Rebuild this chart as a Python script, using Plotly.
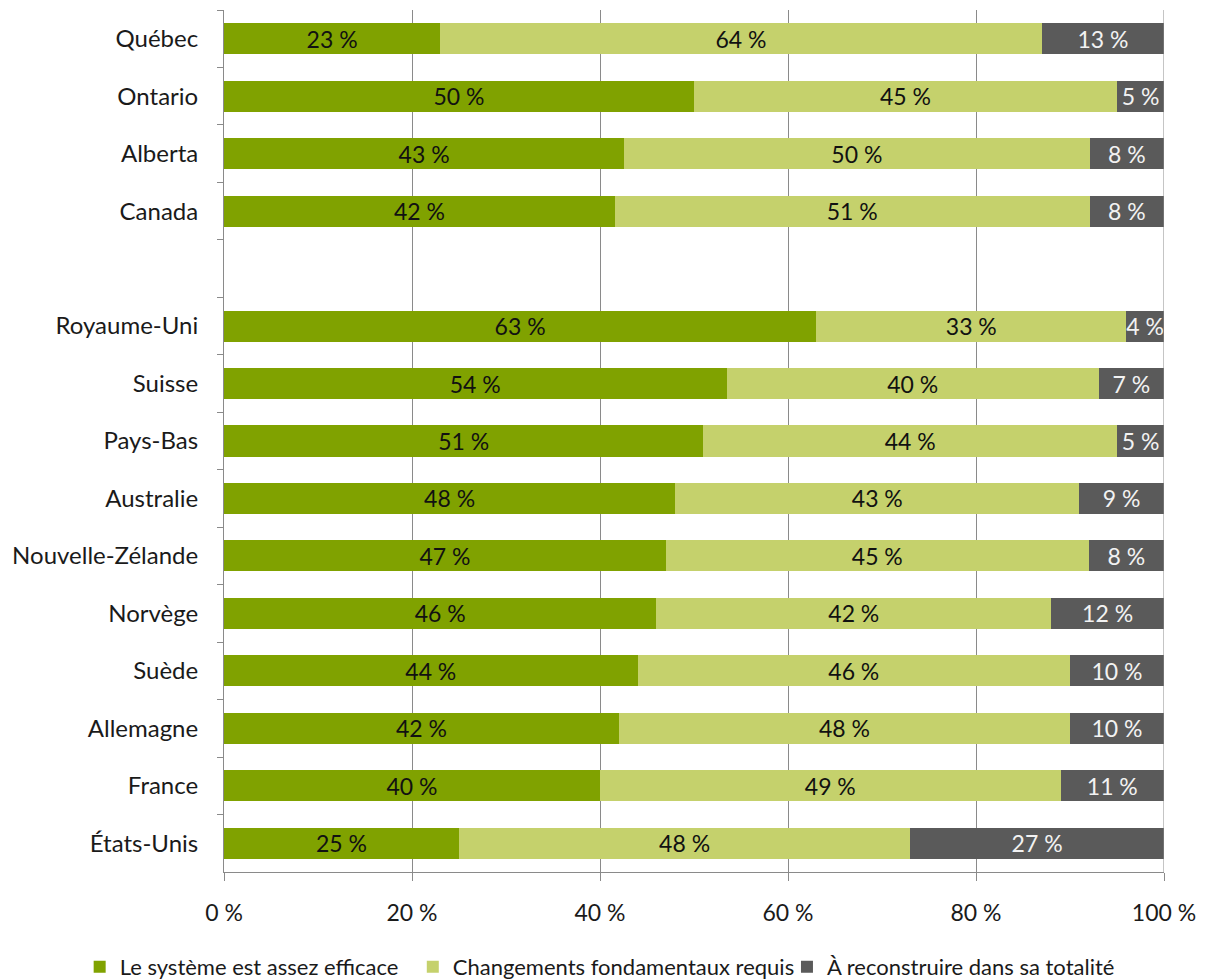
import plotly.graph_objects as go

# Regions / countries, top to bottom; " " is the empty spacer row
categories = ["Québec", "Ontario", "Alberta", "Canada", " ",
              "Royaume-Uni", "Suisse", "Pays-Bas", "Australie", "Nouvelle-Zélande",
              "Norvège", "Suède", "Allemagne", "France", "États-Unis"]

efficace = [23, 50, 43, 42, None, 63, 54, 51, 48, 47, 46, 44, 42, 40, 25]
changements = [64, 45, 50, 51, None, 33, 40, 44, 43, 45, 42, 46, 48, 49, 48]
reconstruire = [13, 5, 8, 8, None, 4, 7, 5, 9, 8, 12, 10, 10, 11, 27]

x_ticks = [0, 20, 40, 60, 80, 100]
x_tick_text = [f"{t} %" for t in x_ticks]

# name, values, bar colour, label colour, legend id, legend left edge (container fraction)
series = [
    ("Le système est assez efficace", efficace, "#80A200", "#111111", "legend", 0.066),
    ("Changements fondamentaux requis", changements, "#C5D16C", "#111111", "legend2", 0.342),
    ("À reconstruire dans sa totalité", reconstruire, "#5A5A5A", "#F2F2F2", "legend3", 0.652),
]

FONT = "Lato"
FS = 23
TXT = "#1a1a1a"

fig = go.Figure()
legends = {}
for name, vals, color, tcolor, leg, lx in series:
    fig.add_trace(go.Bar(
        y=categories, x=vals, name=name, orientation="h",
        marker=dict(color=color, line=dict(width=0)),
        text=[f"{v} %" if v is not None else "" for v in vals],
        textposition="inside", insidetextanchor="middle",
        textangle=0, constraintext="none",
        textfont=dict(family=FONT, size=FS, color=tcolor),
        hoverinfo="skip", legend=leg,
    ))
    legends[leg] = dict(orientation="h", xref="container", yref="container",
                        x=lx, xanchor="left", y=0.0123, yanchor="middle",
                        font=dict(family=FONT, size=22, color=TXT),
                        bgcolor="rgba(0,0,0,0)", borderwidth=0)

fig.update_layout(
    barmode="stack", barnorm="percent", bargap=0.46,
    width=1207, height=979,
    margin=dict(l=224, r=43, t=10, b=107),
    plot_bgcolor="white", paper_bgcolor="white",
    font=dict(family=FONT, size=FS, color=TXT),
    showlegend=True,
    **legends,
)

fig.update_xaxes(
    range=[0, 100], tickmode="array", tickvals=x_ticks, ticktext=x_tick_text,
    showgrid=True, gridcolor="#8A8A8A", gridwidth=1,
    showline=True, linecolor="#8A8A8A", linewidth=1,
    ticks="outside", ticklen=8, tickcolor="#8A8A8A",
    ticklabelstandoff=12,
    zeroline=False, tickfont=dict(family=FONT, size=FS, color=TXT),
)
fig.update_yaxes(
    categoryorder="array", categoryarray=categories, autorange="reversed",
    tickson="boundaries", ticks="outside", ticklen=6, tickcolor="#8A8A8A",
    showline=True, linecolor="#8A8A8A", linewidth=1,
    showgrid=False, ticklabelstandoff=20,
    tickfont=dict(family=FONT, size=24, color=TXT),
)

# right-hand frame line at 100 %
fig.add_shape(type="line", xref="x", yref="paper", x0=100, x1=100, y0=0, y1=1,
              line=dict(color="#8A8A8A", width=1))

fig.write_html("out.html")
